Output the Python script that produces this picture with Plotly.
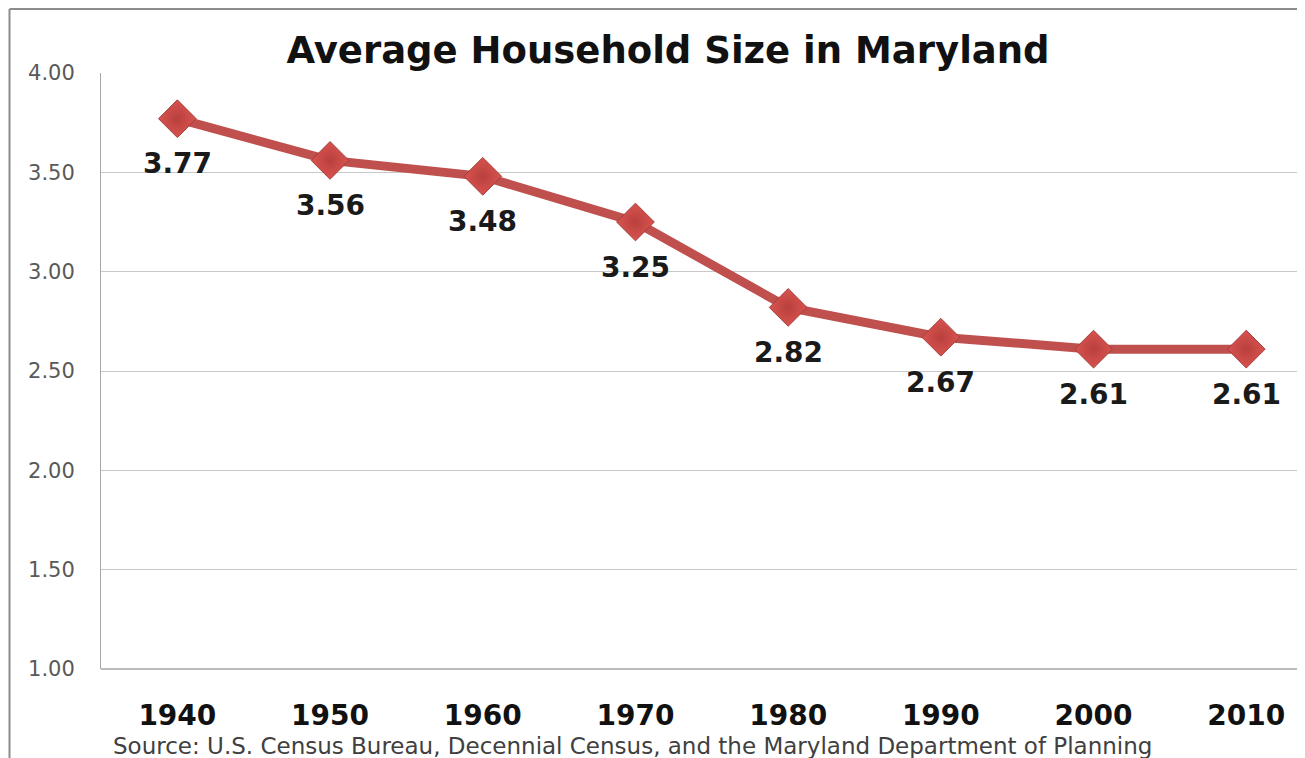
import plotly.graph_objects as go

years = ["1940", "1950", "1960", "1970", "1980", "1990", "2000", "2010"]
household_size = [3.77, 3.56, 3.48, 3.25, 2.82, 2.67, 2.61, 2.61]
y_ticks = [1.0, 1.5, 2.0, 2.5, 3.0, 3.5, 4.0]
y_tick_labels = ["1.00", "1.50", "2.00", "2.50", "3.00", "3.50", "4.00"]

# page has an 8px body margin; work in figure coordinates
W, H = 1297, 750
L, R, T, B = 93, 0, 65, 89
pw, ph = W - L - R, H - T - B

xs = list(range(len(years)))

fig = go.Figure()
fig.add_trace(go.Scatter(
    x=xs, y=household_size, mode="lines+markers",
    line=dict(color="#C0504D", width=9),
    marker=dict(symbol="diamond", size=29, color="#D9534F",
                line=dict(color="#A33E3B", width=1),
                gradient=dict(type="radial", color="#B8403D")),
    hoverinfo="x+y", showlegend=False,
))

for x, v in zip(xs, household_size):
    fig.add_annotation(x=x, y=v, text=f"<b>{v:.2f}</b>", showarrow=False,
                       yshift=-45, font=dict(family="DejaVu Sans", size=28, color="#1a1a1a"))

# outer chart border (left and top)
bx = (1.5 - L) / pw
by = 1 + (T - 1) / ph
fig.add_shape(type="line", xref="paper", yref="paper", x0=bx, x1=bx, y0=-(B + 5) / ph, y1=by,
              line=dict(color="#8c8c8c", width=2))
fig.add_shape(type="line", xref="paper", yref="paper", x0=bx, x1=1.02, y0=by, y1=by,
              line=dict(color="#8c8c8c", width=2))

fig.add_annotation(xref="paper", yref="paper", x=(624 - L) / pw, y=-(738 - (H - B)) / ph,
                   text="Source: U.S. Census Bureau, Decennial Census, and the Maryland Department of Planning",
                   showarrow=False, font=dict(family="DejaVu Sans", size=23, color="#404040"),
                   xanchor="center", yanchor="middle")

fig.update_layout(
    width=W, height=H,
    margin=dict(l=L, r=R, t=T, b=B, pad=0),
    paper_bgcolor="white", plot_bgcolor="white",
    title=dict(text="<b>Average Household Size in Maryland</b>", xref="container", yref="container",
               x=660 / W, y=1 - 42 / H, xanchor="center", yanchor="middle",
               font=dict(family="DejaVu Sans", size=37, color="#111111")),
    xaxis=dict(range=[-0.5, -0.5 + pw / 152.7], tickmode="array", tickvals=xs,
               ticktext=[f"<b>{y}</b>" for y in years], showgrid=False, zeroline=False,
               showline=False, ticks="", ticklabelstandoff=27,
               tickfont=dict(family="DejaVu Sans", size=28, color="#111111")),
    yaxis=dict(range=[1.0, 4.0], tickmode="array", tickvals=y_ticks, ticktext=y_tick_labels,
               showgrid=True, gridcolor="#C8C8C8", gridwidth=1, zeroline=False,
               showline=True, linecolor="#A6A6A6", linewidth=1, ticks="", ticklabelstandoff=21,
               tickfont=dict(family="DejaVu Sans", size=21, color="#595959")),
)
fig.add_shape(type="line", xref="paper", yref="paper", x0=0, x1=1, y0=0, y1=0,
              line=dict(color="#A6A6A6", width=1.5))

fig.write_html("out.html")
